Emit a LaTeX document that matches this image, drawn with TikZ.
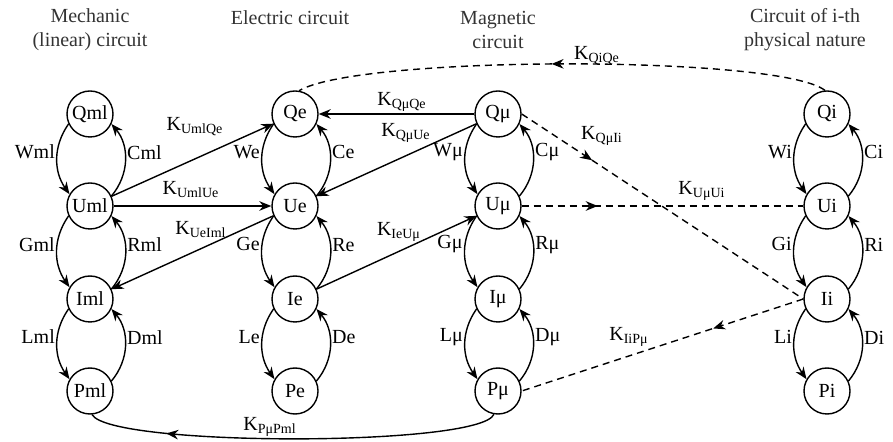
\documentclass[tikz,border=0pt]{standalone}
\usepackage{fontspec}
\setmainfont{Liberation Serif}
\usetikzlibrary{arrows.meta,decorations.markings}
\newcommand{\coup}[1]{K\textsubscript{#1}}

\begin{document}
\begin{tikzpicture}[x=0.5pt,y=0.5pt,line width=0.7pt,>={Stealth[length=6pt,width=4.8pt]},
        var/.style={circle,draw,minimum size=23pt,inner sep=0pt},
        lab/.style={inner sep=1pt},
        loopl/.style={out=235,in=125},
        loopr/.style={out=50,in=-50},
        dashlink/.style={dash pattern=on 3.5pt off 2.5pt},
        midarrow/.style={postaction={decorate},decoration={markings,mark=at position #1 with {\arrow{>}}}},
        title/.style={align=center,text=black!80}]

        \useasboundingbox (0,0) rectangle (893,-442);

        %titoli
        \node[title] (tml) at (90,-30) {Mechanic\\(linear) circuit};
        \node[title] (te) at (290,-18) {Electric circuit};
        \node[title] (tmu) at (498,-30) {Magnetic\\circuit};
        \node[title] (ti) at (805,-30) {Circuit of i-th\\physical nature};

        %circuito meccanico
        \node[var] (Qml) at (90,-114) {Qml};
        \node[var] (Uml) at (90,-206) {Uml};
        \node[var] (Iml) at (90,-299) {Iml};
        \node[var] (Pml) at (90,-391) {Pml};
        \draw[->] (Qml.205) to[loopl] node[lab,pos=0.4,left]{Wml} (Uml.150);
        \draw[->] (Uml.25) to[loopr] node[lab,pos=0.6,right]{Cml} (Qml.-25);
        \draw[->] (Uml.205) to[loopl] node[lab,pos=0.4,left]{Gml} (Iml.150);
        \draw[->] (Iml.25) to[loopr] node[lab,pos=0.6,right]{Rml} (Uml.-25);
        \draw[->] (Iml.205) to[loopl] node[lab,pos=0.4,left]{Lml} (Pml.150);
        \draw[->] (Pml.25) to[loopr] node[lab,pos=0.6,right]{Dml} (Iml.-25);

        %circuito elettrico
        \node[var] (Qe) at (295,-114) {Qe};
        \node[var] (Ue) at (295,-206) {Ue};
        \node[var] (Ie) at (295,-299) {Ie};
        \node[var] (Pe) at (295,-391) {Pe};
        \draw[->] (Qe.205) to[loopl] node[lab,pos=0.4,left]{We} (Ue.150);
        \draw[->] (Ue.25) to[loopr] node[lab,pos=0.6,right]{Ce} (Qe.-25);
        \draw[->] (Ue.205) to[loopl] node[lab,pos=0.4,left]{Ge} (Ie.150);
        \draw[->] (Ie.25) to[loopr] node[lab,pos=0.6,right]{Re} (Ue.-25);
        \draw[->] (Ie.205) to[loopl] node[lab,pos=0.4,left]{Le} (Pe.150);
        \draw[->] (Pe.25) to[loopr] node[lab,pos=0.6,right]{De} (Ie.-25);

        %circuito magnetico
        \node[var] (Qmu) at (498,-114) {Qμ};
        \node[var] (Umu) at (498,-206) {Uμ};
        \node[var] (Imu) at (498,-299) {Iμ};
        \node[var] (Pmu) at (498,-391) {Pμ};
        \draw[->] (Qmu.205) to[loopl] node[lab,pos=0.4,left]{Wμ} (Umu.150);
        \draw[->] (Umu.25) to[loopr] node[lab,pos=0.6,right]{Cμ} (Qmu.-25);
        \draw[->] (Umu.205) to[loopl] node[lab,pos=0.4,left]{Gμ} (Imu.150);
        \draw[->] (Imu.25) to[loopr] node[lab,pos=0.6,right]{Rμ} (Umu.-25);
        \draw[->] (Imu.205) to[loopl] node[lab,pos=0.4,left]{Lμ} (Pmu.150);
        \draw[->] (Pmu.25) to[loopr] node[lab,pos=0.6,right]{Dμ} (Imu.-25);

        %circuito i-esimo
        \node[var] (Qi) at (827,-114) {Qi};
        \node[var] (Ui) at (827,-206) {Ui};
        \node[var] (Ii) at (827,-299) {Ii};
        \node[var] (Pi) at (827,-391) {Pi};
        \draw[->] (Qi.205) to[loopl] node[lab,pos=0.4,left]{Wi} (Ui.150);
        \draw[->] (Ui.25) to[loopr] node[lab,pos=0.6,right]{Ci} (Qi.-25);
        \draw[->] (Ui.205) to[loopl] node[lab,pos=0.4,left]{Gi} (Ii.150);
        \draw[->] (Ii.25) to[loopr] node[lab,pos=0.6,right]{Ri} (Ui.-25);
        \draw[->] (Ii.205) to[loopl] node[lab,pos=0.4,left]{Li} (Pi.150);
        \draw[->] (Pi.25) to[loopr] node[lab,pos=0.6,right]{Di} (Ii.-25);

        %accoppiamenti
        \draw[->] (Uml) -- (Qe); \node (kUmlQe) at (195,-127) {\coup{UmlQe}};
        \draw[->] (Uml) -- (Ue); \node (kUmlUe) at (191,-190) {\coup{UmlUe}};
        \draw[->] (Ue) -- (Iml); \node (kUeIml) at (201,-230) {\coup{UeIml}};
        \draw[->] (Qmu) -- (Qe); \node (kQmuQe) at (402,-102) {\coup{QμQe}};
        \draw[->] (Qmu) -- (Ue); \node (kQmuUe) at (406,-133) {\coup{QμUe}};
        \draw[->] (Ie) -- (Umu); \node (kIeUmu) at (399,-232) {\coup{IeUμ}};
        \draw[midarrow=0.81] (Pmu.-100) .. controls (480,-447) and (110,-447) .. (Pml.-85);
        \node (kPmuPml) at (270,-427) {\coup{PμPml}};

        %accoppiamenti tratteggiati
        \draw[dashlink,midarrow=0.52] (Qi.95) .. controls (780,-55) and (360,-55) .. (Qe.80);
        \node (kQiQe) at (597,-56) {\coup{QiQe}};
        \draw[dashlink,midarrow=0.25] (Qmu.east) -- (Ii.west);
        \node (kQmuIi) at (602,-136) {\coup{QμIi}};
        \draw[dashlink,midarrow=0.27] (Umu.east) -- (Ui.west);
        \node (kUmuUi) at (702,-191) {\coup{UμUi}};
        \draw[dashlink,midarrow=0.32] (Ii.west) -- (Pmu.east);
        \node (kIiPmu) at (629,-337) {\coup{IiPμ}};
\end{tikzpicture}
\end{document}
